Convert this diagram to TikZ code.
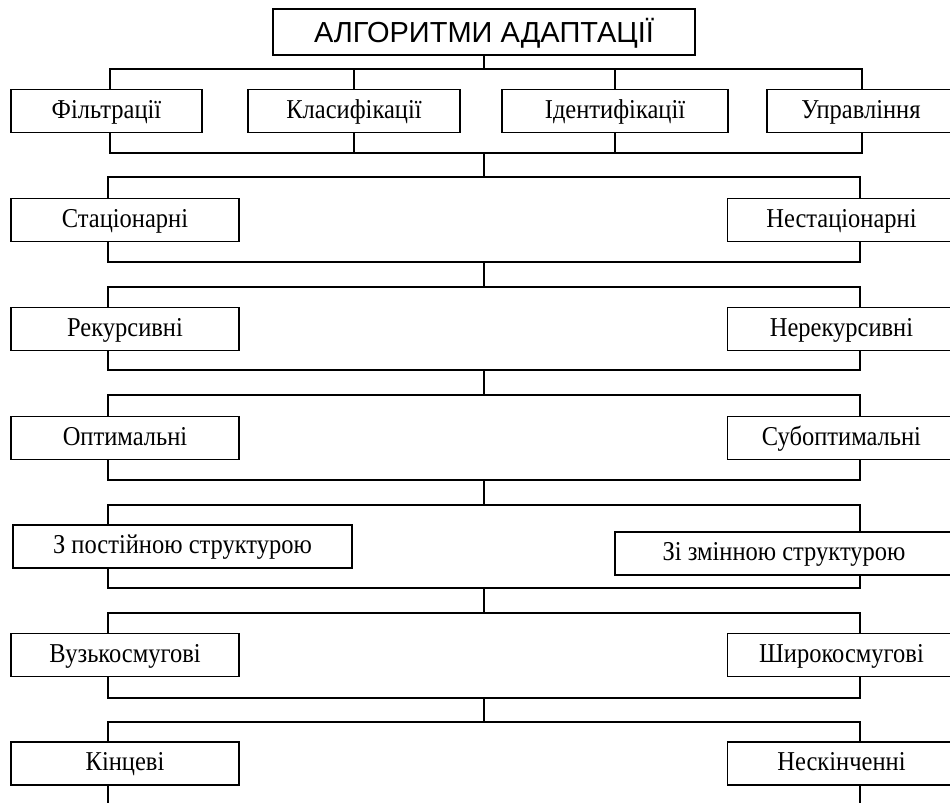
\documentclass[tikz,border=0pt]{standalone}
\usepackage{fontspec}
\setmainfont{Liberation Serif}
\newfontfamily\boxfont[FakeStretch=0.9]{Liberation Serif}
\newfontfamily\titlefont{Liberation Sans}
\tikzset{
  box/.style={draw, line width=0.9pt, inner sep=0pt, minimum height=0.86cm,
    text height=11pt, text depth=3pt,
    font=\boxfont\fontsize{15.5}{17}\selectfont},
  sidebox/.style={box, minimum width=4.56cm},
  link/.style={line width=0.9pt}
}
\begin{document}
\begin{tikzpicture}[x=0.02cm, y=-0.02cm]
\clip (0,0) rectangle (950,803);
\fill[white] (0,0) rectangle (950,803);
% top
\node[box, minimum width=8.44cm, minimum height=0.92cm, text height=14pt, text depth=2.6pt,
  font=\titlefont\fontsize{16.5}{19}\selectfont] (alg) at (484,32) {АЛГОРИТМИ АДАПТАЦІЇ};
% first row
\node[box, minimum width=3.82cm] (filt) at (106.5,111) {Фільтрації};
\node[box, minimum width=4.24cm] (klas) at (354,111) {Класифікації};
\node[box, minimum width=4.52cm] (ident) at (615,111) {Ідентифікації};
\node[box, minimum width=3.76cm] (upr) at (861,111) {Управління};
% pairs
\node[sidebox] (stat) at (125,220) {Стаціонарні};
\node[sidebox] (nestat) at (841.5,220) {Нестаціонарні};
\node[sidebox] (rek) at (125,329) {Рекурсивні};
\node[sidebox] (nerek) at (841.5,329) {Нерекурсивні};
\node[sidebox] (opt) at (125,438) {Оптимальні};
\node[sidebox] (subopt) at (841.5,438) {Субоптимальні};
\node[box, minimum width=6.78cm] (post) at (182.5,546.5) {З постійною структурою};
\node[box, minimum width=6.76cm] (zmin) at (784,553.5) {Зі змінною структурою};
\node[sidebox] (vuz) at (125,655) {Вузькосмугові};
\node[sidebox] (shyr) at (841.5,655) {Широкосмугові};
\node[sidebox] (kinc) at (125,763.5) {Кінцеві};
\node[sidebox] (neskin) at (841.5,763.5) {Нескінченні};
% bus points
\coordinate (xL) at (108,0);
\coordinate (xR) at (860,0);
\coordinate (t1) at (484,69);
\coordinate (b1) at (484,153);
\coordinate (t2) at (484,177);
\coordinate (b2) at (484,262);
\coordinate (t3) at (484,287);
\coordinate (b3) at (484,370);
\coordinate (t4) at (484,395);
\coordinate (b4) at (484,480);
\coordinate (t5) at (484,505);
\coordinate (b5) at (484,588);
\coordinate (t6) at (484,613);
\coordinate (b6) at (484,698);
\coordinate (t7) at (484,722);
% connectors
\draw[link] (alg.south) -- (t1);
\draw[link] (filt.north -| 110,0) |- (t1) -| (upr.north -| 862,0);
\draw[link] (t1 -| klas.north) -- (klas.north);
\draw[link] (t1 -| ident.north) -- (ident.north);
\draw[link] (filt.south -| 110,0) |- (b1) -| (upr.south -| 862,0);
\draw[link] (klas.south) -- (b1 -| klas.south);
\draw[link] (ident.south) -- (b1 -| ident.south);
\draw[link] (b1) -- (t2);
\draw[link] (stat.north -| xL) |- (t2) -| (nestat.north -| xR);
\draw[link] (stat.south -| xL) |- (b2) -| (nestat.south -| xR);
\draw[link] (b2) -- (t3);
\draw[link] (rek.north -| xL) |- (t3) -| (nerek.north -| xR);
\draw[link] (rek.south -| xL) |- (b3) -| (nerek.south -| xR);
\draw[link] (b3) -- (t4);
\draw[link] (opt.north -| xL) |- (t4) -| (subopt.north -| xR);
\draw[link] (opt.south -| xL) |- (b4) -| (subopt.south -| xR);
\draw[link] (b4) -- (t5);
\draw[link] (post.north -| xL) |- (t5) -| (zmin.north -| xR);
\draw[link] (post.south -| xL) |- (b5) -| (zmin.south -| xR);
\draw[link] (b5) -- (t6);
\draw[link] (vuz.north -| xL) |- (t6) -| (shyr.north -| xR);
\draw[link] (vuz.south -| xL) |- (b6) -| (shyr.south -| xR);
\draw[link] (b6) -- (t7);
\draw[link] (kinc.north -| xL) |- (t7) -| (neskin.north -| xR);
\draw[link] (kinc.south -| xL) -- ++(0,40);
\draw[link] (neskin.south -| xR) -- ++(0,40);
\end{tikzpicture}
\end{document}
